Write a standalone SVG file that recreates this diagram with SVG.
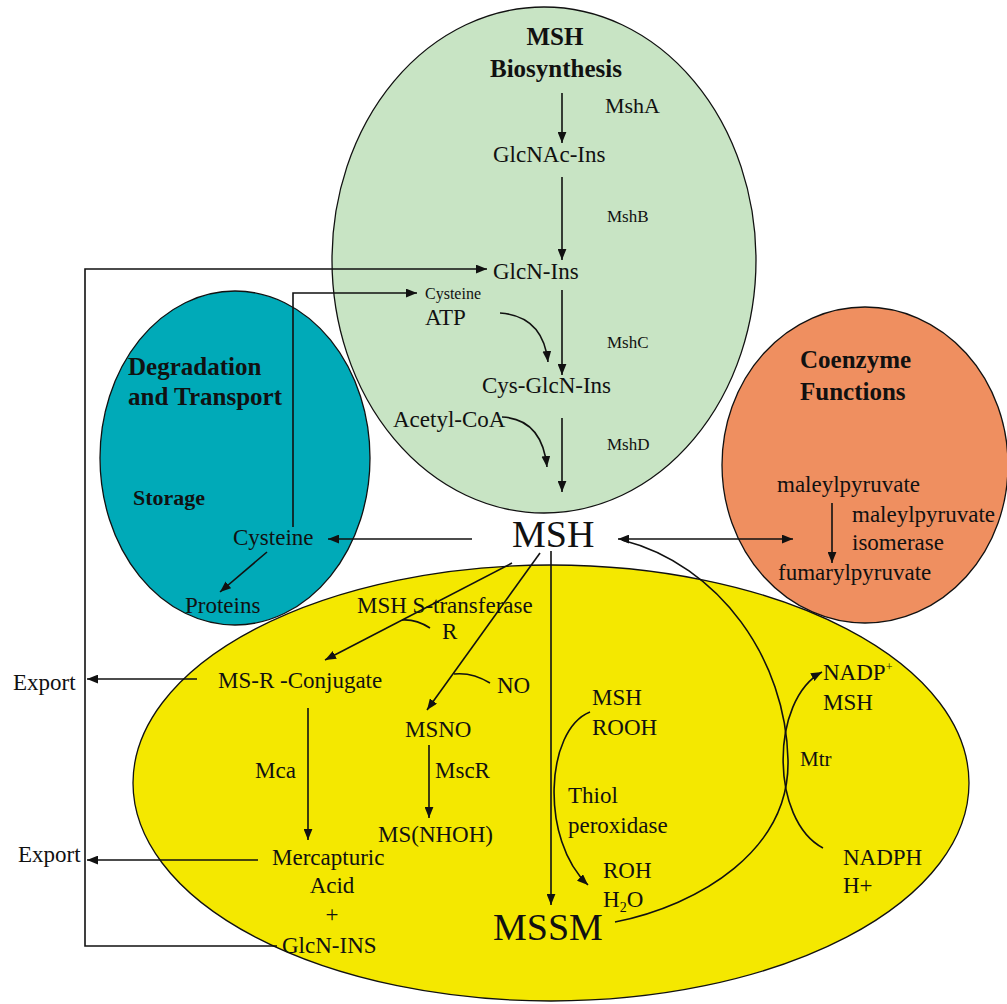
<svg xmlns="http://www.w3.org/2000/svg" width="1007" height="1004" viewBox="0 0 1007 1004">
<style>
text{font-family:"Liberation Serif","Times New Roman",serif;fill:#111;font-size:23px}
.b{font-weight:bold;font-size:25px}
.s{font-size:17px}
.big{font-size:38px}
.reg{stroke:#111;stroke-width:1.3}
.c{fill:none;stroke:#111;stroke-width:1.6}
.a{marker-end:url(#ah)}
</style>
<defs>
<marker id="ah" viewBox="0 0 10 8" refX="10" refY="4" markerWidth="11" markerHeight="9" markerUnits="userSpaceOnUse" orient="auto-start-reverse">
<path d="M0,0 L10,4 L0,8 z" fill="#111"/>
</marker>
</defs>
<rect width="1007" height="1004" fill="#fff"/>
<g id="metabolism">
<ellipse cx="551" cy="783" rx="418" ry="218" fill="#f4e800" class="reg"/>
</g>
<g id="coenzyme">
<ellipse cx="865" cy="465" rx="143" ry="158" fill="#ef8f60" class="reg"/>
</g>
<g id="biosynthesis">
<ellipse cx="544" cy="260" rx="212" ry="253" fill="#c8e4c4" class="reg"/>
</g>
<g id="degradation">
<ellipse cx="235" cy="458" rx="135" ry="167" fill="#00aab8" class="reg"/>
</g>
<g id="connectors">
<path class="c a" d="M562,93 V143"/>
<path class="c a" d="M562,177 V260"/>
<path class="c a" d="M562,290 V375"/>
<path class="c a" d="M562,418 V492"/>
<path class="c a" d="M500,313 Q543,316 548,362"/>
<path class="c a" d="M502,417 Q542,419 547,467"/>
<path class="c a" d="M277,946 H85 V269 H487"/>
<path class="c a" d="M293,527 V293 H417"/>
<path class="c a" d="M472,539 H328"/>
<path class="c a" d="M267,552 L220,592"/>
<path class="c a" d="M618,539 H793" marker-start="url(#ah)"/>
<path class="c" d="M615,922 C700,905 790,850 788,760 C786,660 720,565 622,540"/>
<path class="c a" d="M823,848 C770,820 770,700 822,672"/>
<path class="c a" d="M590,712 C545,730 540,840 588,885"/>
<path class="c a" d="M551,551 V905"/>
<path class="c a" d="M512,563 L325,660"/>
<path class="c" d="M430,628 Q416,619 402,620"/>
<path class="c a" d="M540,553 L427,710"/>
<path class="c" d="M490,683 Q472,672 454,674"/>
<path class="c a" d="M429,745 V818"/>
<path class="c a" d="M308,708 V840"/>
<path class="c a" d="M197,679 H87"/>
<path class="c a" d="M258,860 H87"/>
<path class="c a" d="M832,503 V563"/>
</g>
<g id="labels-biosynthesis">
<text class="b" x="555" y="45" text-anchor="middle">MSH</text>
<text class="b" x="556" y="77" text-anchor="middle">Biosynthesis</text>
<text x="605" y="113" style="font-size:22px">MshA</text>
<text x="493" y="162">GlcNAc-Ins</text>
<text class="s" x="607" y="222">MshB</text>
<text x="493" y="279">GlcN-Ins</text>
<text x="425" y="299" style="font-size:16px">Cysteine</text>
<text x="425" y="325">ATP</text>
<text class="s" x="607" y="348">MshC</text>
<text x="482" y="393">Cys-GlcN-Ins</text>
<text x="393" y="427">Acetyl-CoA</text>
<text class="s" x="607" y="450">MshD</text>
</g>
<g id="labels-degradation">
<text class="b" x="128" y="375">Degradation</text>
<text class="b" x="128" y="405">and Transport</text>
<text class="b" x="133" y="505" style="font-size:22px">Storage</text>
<text x="233" y="545">Cysteine</text>
<text x="185" y="613">Proteins</text>
</g>
<g id="msh-node">
<text class="big" x="512" y="547">MSH</text>
</g>
<g id="labels-coenzyme">
<text class="b" x="800" y="368">Coenzyme</text>
<text class="b" x="800" y="400">Functions</text>
<text x="777" y="492">maleylpyruvate</text>
<text x="852" y="522">maleylpyruvate</text>
<text x="852" y="550">isomerase</text>
<text x="778" y="580">fumarylpyruvate</text>
</g>
<g id="labels-metabolism">
<text x="357" y="613">MSH S-transferase</text>
<text x="442" y="639">R</text>
<text x="218" y="688">MS-R -Conjugate</text>
<text x="13" y="690">Export</text>
<text x="497" y="693">NO</text>
<text x="405" y="737">MSNO</text>
<text x="435" y="778">MscR</text>
<text x="378" y="842">MS(NHOH)</text>
<text x="255" y="778">Mca</text>
<text x="18" y="862">Export</text>
<text x="272" y="865">Mercapturic</text>
<text x="332" y="893" text-anchor="middle">Acid</text>
<text x="332" y="922" text-anchor="middle">+</text>
<text x="282" y="953">GlcN-INS</text>
<text x="592" y="705">MSH</text>
<text x="592" y="735">ROOH</text>
<text x="568" y="803">Thiol</text>
<text x="568" y="833">peroxidase</text>
<text x="603" y="878">ROH</text>
<text x="603" y="907">H<tspan font-size="14" dy="5">2</tspan><tspan dy="-5">O</tspan></text>
<text class="big" x="493" y="940">MSSM</text>
<text x="823" y="680">NADP<tspan font-size="12" dy="-9">+</tspan></text>
<text x="823" y="710">MSH</text>
<text x="800" y="766" style="font-size:21px">Mtr</text>
<text x="843" y="865">NADPH</text>
<text x="843" y="893">H+</text>
</g>
</svg>
